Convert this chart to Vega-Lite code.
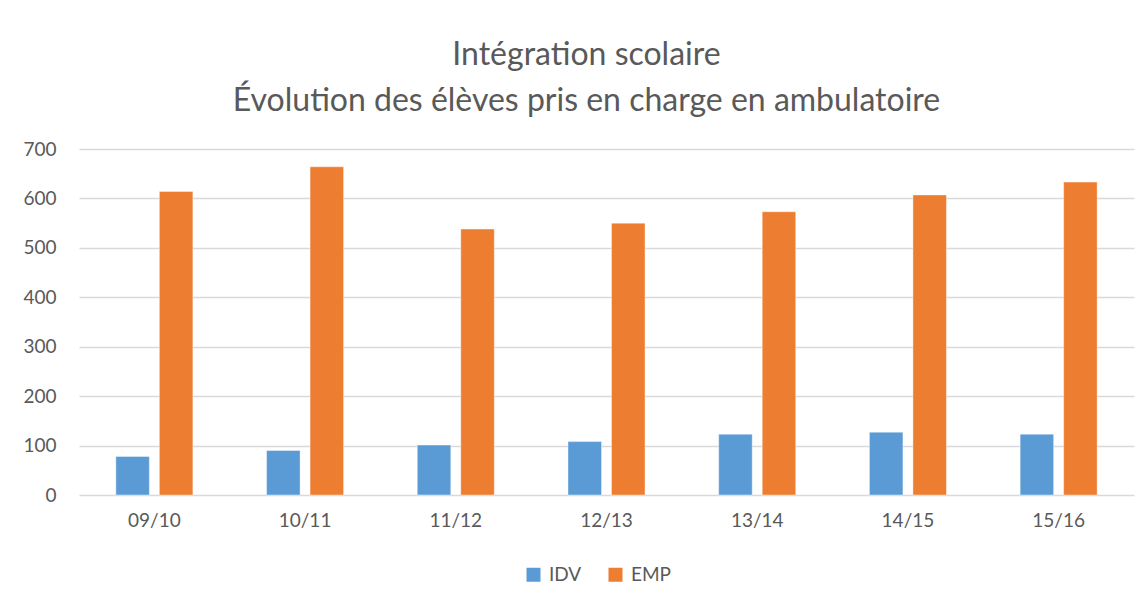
{
  "$schema": "https://vega.github.io/schema/vega-lite/v6.json",
  "width": 1055,
  "height": 346,
  "autosize": {"type": "none"},
  "padding": {"left": 79, "top": 149, "right": 12, "bottom": 109},
  "background": "white",
  "title": {
    "text": ["Intégration scolaire", "Évolution des élèves pris en charge en ambulatoire"],
    "font": "Lato",
    "fontSize": 32,
    "fontWeight": "normal",
    "color": "#595959",
    "lineHeight": 46,
    "anchor": "middle",
    "dx": -20,
    "offset": 22
  },
  "data": {
    "values": [
      {"annee": "09/10", "serie": "IDV", "valeur": 78},
      {"annee": "09/10", "serie": "EMP", "valeur": 614},
      {"annee": "10/11", "serie": "IDV", "valeur": 90},
      {"annee": "10/11", "serie": "EMP", "valeur": 664},
      {"annee": "11/12", "serie": "IDV", "valeur": 101},
      {"annee": "11/12", "serie": "EMP", "valeur": 538},
      {"annee": "12/13", "serie": "IDV", "valeur": 108},
      {"annee": "12/13", "serie": "EMP", "valeur": 550},
      {"annee": "13/14", "serie": "IDV", "valeur": 123},
      {"annee": "13/14", "serie": "EMP", "valeur": 573},
      {"annee": "14/15", "serie": "IDV", "valeur": 127},
      {"annee": "14/15", "serie": "EMP", "valeur": 607},
      {"annee": "15/16", "serie": "IDV", "valeur": 123},
      {"annee": "15/16", "serie": "EMP", "valeur": 633}
    ]
  },
  "mark": {"type": "bar", "stroke": "#ffffff", "strokeOpacity": 0.4, "strokeWidth": 1},
  "encoding": {
    "x": {
      "field": "annee",
      "type": "nominal",
      "sort": null,
      "title": null,
      "scale": {"paddingInner": 0.489, "paddingOuter": 0.2445},
      "axis": {
        "labelAngle": 0,
        "labelFont": "Lato",
        "labelFontSize": 19,
        "labelColor": "#595959",
        "labelPadding": 16,
        "domain": false,
        "ticks": false,
        "grid": false
      }
    },
    "xOffset": {
      "field": "serie",
      "type": "nominal",
      "sort": ["IDV", "EMP"],
      "scale": {"paddingInner": 0.23, "paddingOuter": 0}
    },
    "y": {
      "field": "valeur",
      "type": "quantitative",
      "title": null,
      "scale": {"domain": [0, 700], "nice": false},
      "axis": {
        "values": [0, 100, 200, 300, 400, 500, 600, 700],
        "labelFont": "Lato",
        "labelFontSize": 19,
        "labelColor": "#595959",
        "labelPadding": 23,
        "domain": false,
        "ticks": false,
        "grid": true,
        "gridColor": "#d9d9d9",
        "gridWidth": 1.5
      }
    },
    "color": {
      "field": "serie",
      "type": "nominal",
      "sort": ["IDV", "EMP"],
      "title": null,
      "scale": {"domain": ["IDV", "EMP"], "range": ["#5b9bd5", "#ed7d31"]},
      "legend": {
        "orient": "none",
        "legendX": 445,
        "legendY": 416,
        "direction": "horizontal",
        "symbolType": "square",
        "symbolSize": 196,
        "symbolStrokeWidth": 0,
        "labelFont": "Lato",
        "labelFontSize": 19,
        "labelColor": "#595959",
        "labelOffset": 6,
        "columnPadding": 24
      }
    }
  },
  "config": {"view": {"stroke": null}}
}
